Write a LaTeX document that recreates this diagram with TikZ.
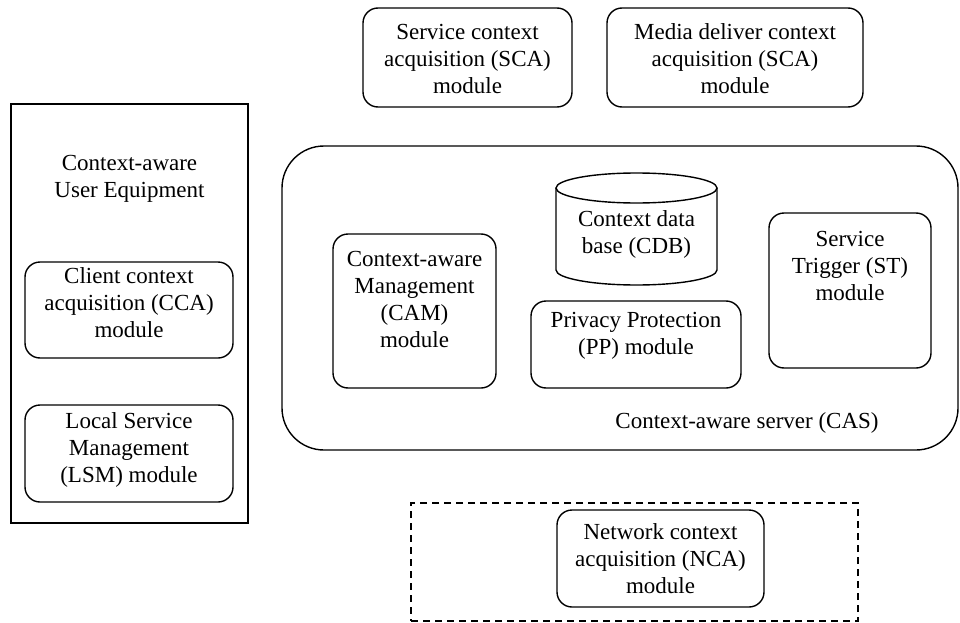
\documentclass[tikz,border=0pt]{standalone}
\usepackage{fontspec}
\setmainfont{Liberation Serif}
\begin{document}
\begin{tikzpicture}[x=1pt,y=-1pt,
  txt/.style={align=center, inner sep=0pt, font=\fontsize{23}{27}\selectfont},
  modbox/.style={draw, line width=1.4pt, rounded corners=15pt, inner sep=0pt},
  plainbox/.style={draw, line width=1.4pt, inner sep=0pt},
  bigbox/.style={draw, line width=1.4pt, rounded corners=42pt, inner sep=0pt},
  dashbox/.style={draw, line width=1.4pt, dash pattern=on 7pt off 5pt, inner sep=0pt}]
\useasboundingbox (0,0) rectangle (960,623);

% User equipment
\node[plainbox, minimum width=237pt, minimum height=419pt] (ue) at (129.5,313.5) {};
\node[txt] (uelabel) at (129.5,179) {Context-aware\\User Equipment};
\node[modbox, minimum width=208pt, minimum height=96pt] (cca) at (129,310) {};
\node[txt] (ccatext) at (129,303) {Client context\\acquisition (CCA)\\module};
\node[modbox, minimum width=208pt, minimum height=97pt] (lsm) at (129,453.5) {};
\node[txt] (lsmtext) at (129,450) {Local Service\\Management\\(LSM) module};

% top modules
\node[modbox, minimum width=209pt, minimum height=99pt] (sca) at (467.5,57.5) {};
\node[txt] (scatext) at (467.5,59) {Service context\\acquisition (SCA)\\module};
\node[modbox, minimum width=256pt, minimum height=99pt] (mdca) at (735,57.5) {};
\node[txt] (mdcatext) at (735,59) {Media deliver context\\acquisition (SCA)\\module};

% server
\node[bigbox, minimum width=676pt, minimum height=304pt] (cas) at (620,298) {};
\node[txt] (caslabel) at (747,423) {Context-aware server (CAS)};

% database cylinder
\coordinate (cdbtop) at (636.5,188);
\coordinate (cdbbot) at (636.5,270);
\draw[line width=1.4pt] (cdbtop) ellipse[x radius=80.5pt, y radius=15pt];
\draw[line width=1.4pt] ([xshift=-80.5pt]cdbtop) -- ([xshift=-80.5pt]cdbbot)
  arc[start angle=180, end angle=360, x radius=80.5pt, y radius=15pt]
  -- ([xshift=80.5pt]cdbtop);
\node[txt] (cdb) at (636.5,234) {Context data\\base (CDB)};

\node[modbox, minimum width=163pt, minimum height=154pt] (cam) at (414.5,311) {};
\node[txt] (camtext) at (414.5,299) {Context-aware\\Management\\(CAM)\\module};
\node[modbox, minimum width=210pt, minimum height=87pt] (pp) at (636,344.5) {};
\node[txt] (pptext) at (636,336) {Privacy Protection\\(PP) module};
\node[modbox, minimum width=162pt, minimum height=155pt] (st) at (850,290.5) {};
\node[txt] (sttext) at (850,266) {Service\\Trigger (ST)\\module};

% network
\node[dashbox, minimum width=447pt, minimum height=118pt] (net) at (634.5,562) {};
\node[modbox, minimum width=207pt, minimum height=97pt] (nca) at (660.5,558.5) {};
\node[txt] (ncatext) at (660.5,559) {Network context\\acquisition (NCA)\\module};
\end{tikzpicture}
\end{document}
